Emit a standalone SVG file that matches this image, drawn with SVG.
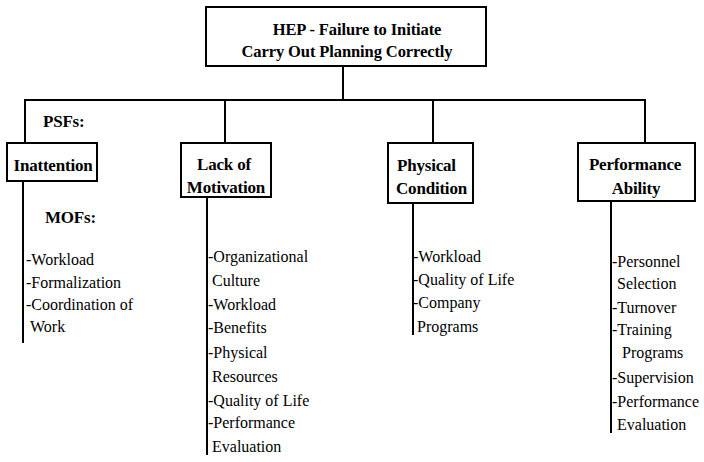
<svg xmlns="http://www.w3.org/2000/svg" width="704" height="462" viewBox="0 0 704 462">
<style>
.box{fill:#fff;stroke:#000;stroke-width:2}
.ln{stroke:#000;stroke-width:2;fill:none}
.t{font-family:'Liberation Serif','Times New Roman',serif;fill:#000}
.b{font-weight:bold;font-size:17px;letter-spacing:-0.2px}
.h{font-weight:bold;font-size:16.5px;letter-spacing:-0.1px}
.r{font-size:16px}
</style>
<g id="connectors">
<line class="ln" x1="343" y1="66" x2="343" y2="100"/>
<line class="ln" x1="24" y1="100" x2="646" y2="100"/>
<line class="ln" x1="25" y1="99" x2="25" y2="143"/>
<line class="ln" x1="225" y1="99" x2="225" y2="143"/>
<line class="ln" x1="433" y1="99" x2="433" y2="143"/>
<line class="ln" x1="645" y1="99" x2="645" y2="143"/>
<line class="ln" x1="23" y1="181" x2="23" y2="343"/>
<line class="ln" x1="207" y1="197" x2="207" y2="455"/>
<line class="ln" x1="413" y1="203" x2="413" y2="335"/>
<line class="ln" x1="611" y1="201" x2="611" y2="433"/>
</g>
<g id="root">
<rect class="box" x="206" y="7" width="280" height="59"/>
<text class="t h" x="357" y="35" text-anchor="middle">HEP - Failure to Initiate</text>
<text class="t h" x="347" y="57" text-anchor="middle">Carry Out Planning Correctly</text>
</g>
<g id="psfs-label">
<text class="t b" x="43" y="127">PSFs:</text>
</g>
<g id="inattention">
<rect class="box" x="7" y="143" width="90" height="38"/>
<text class="t b" x="53" y="171" text-anchor="middle">Inattention</text>
</g>
<g id="mofs-label">
<text class="t b" x="45" y="223">MOFs:</text>
</g>
<g id="inattention-mofs">
<text class="t r" x="26" y="265">-Workload</text>
<text class="t r" x="26" y="288">-Formalization</text>
<text class="t r" x="26" y="310">-Coordination of</text>
<text class="t r" x="30" y="332">Work</text>
</g>
<g id="lack-of-motivation">
<rect class="box" x="181" y="143" width="90" height="54"/>
<text class="t b" x="224" y="170" text-anchor="middle">Lack of</text>
<text class="t b" x="226" y="193" text-anchor="middle">Motivation</text>
</g>
<g id="motivation-mofs">
<text class="t r" x="208" y="262">-Organizational</text>
<text class="t r" x="212" y="286">Culture</text>
<text class="t r" x="208" y="310">-Workload</text>
<text class="t r" x="208" y="333">-Benefits</text>
<text class="t r" x="208" y="358">-Physical</text>
<text class="t r" x="212" y="382">Resources</text>
<text class="t r" x="208" y="406">-Quality of Life</text>
<text class="t r" x="208" y="428">-Performance</text>
<text class="t r" x="212" y="452">Evaluation</text>
</g>
<g id="physical-condition">
<rect class="box" x="388" y="143" width="85" height="60"/>
<text class="t b" x="397" y="171">Physical</text>
<text class="t b" x="396" y="194">Condition</text>
</g>
<g id="physical-mofs">
<text class="t r" x="413" y="262">-Workload</text>
<text class="t r" x="413" y="285">-Quality of Life</text>
<text class="t r" x="413" y="308">-Company</text>
<text class="t r" x="417" y="332">Programs</text>
</g>
<g id="performance-ability">
<rect class="box" x="578" y="143" width="117" height="58"/>
<text class="t b" x="635" y="170" text-anchor="middle">Performance</text>
<text class="t b" x="636" y="194" text-anchor="middle">Ability</text>
</g>
<g id="performance-mofs">
<text class="t r" x="612" y="267">-Personnel</text>
<text class="t r" x="617" y="289">Selection</text>
<text class="t r" x="612" y="313">-Turnover</text>
<text class="t r" x="612" y="335">-Training</text>
<text class="t r" x="622" y="358">Programs</text>
<text class="t r" x="612" y="383">-Supervision</text>
<text class="t r" x="612" y="407">-Performance</text>
<text class="t r" x="617" y="430">Evaluation</text>
</g>
</svg>
